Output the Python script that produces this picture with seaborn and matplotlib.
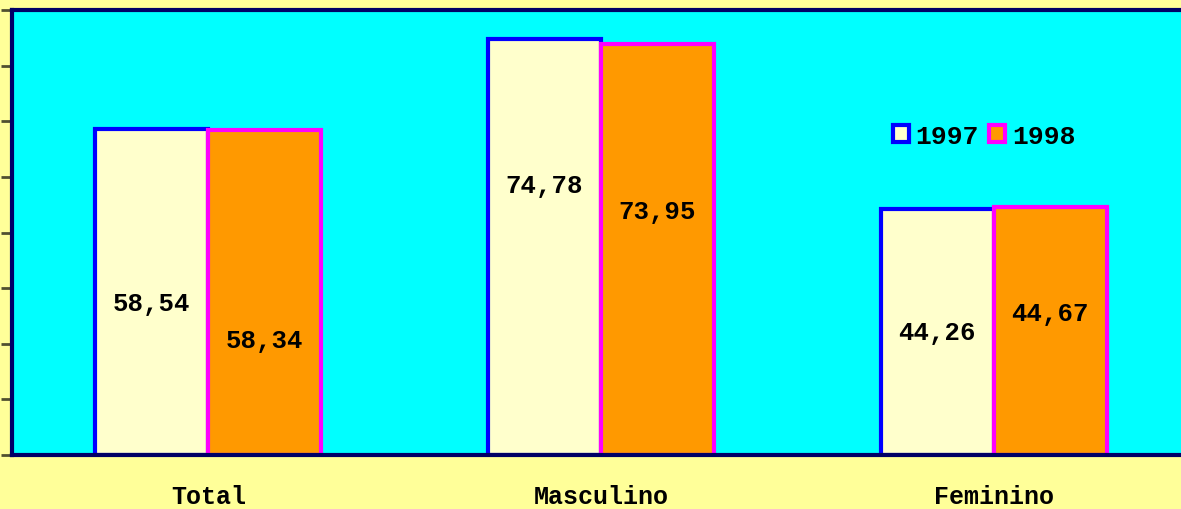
import pandas as pd
import seaborn as sns
import matplotlib.pyplot as plt

# dados do grafico
categorias = ['Total', 'Masculino', 'Feminino']
anos = ['1997', '1998']
valores_1997 = [58.54, 74.78, 44.26]
valores_1998 = [58.34, 73.95, 44.67]

# altura dos rotulos (como no original, movidos a mao)
rotulo_y_1997 = [27.4, 48.6, 22.1]
rotulo_y_1998 = [20.6, 43.8, 25.6]

df = pd.DataFrame({
    'categoria': categorias * 2,
    'ano': [anos[0]] * 3 + [anos[1]] * 3,
    'valor': valores_1997 + valores_1998,
})

sns.set_style('white')
plt.rcParams['font.family'] = ['Liberation Mono', 'DejaVu Sans Mono']
plt.rcParams['font.weight'] = 'bold'
plt.rcParams['text.color'] = 'black'

fig = plt.figure(figsize=(11.81, 5.10), dpi=100, facecolor='#FFFF99')
ax = fig.add_axes([12 / 1181, 1 - 456 / 510, 1178 / 1181, 445 / 510])
ax.set_facecolor('#00FFFF')

sns.barplot(data=df, x='categoria', y='valor', hue='ano', order=categorias,
            palette=['#FFFFCC', '#FF9900'], width=0.575, saturation=1,
            linewidth=3, legend=False, ax=ax)

bordas = ['#0000FF', '#FF00FF']
for cont, cor in zip(ax.containers, bordas):
    for p in cont:
        p.set_edgecolor(cor)
        p.set_linewidth(3)

def fmt(v):
    return f'{v:.2f}'.replace('.', ',')

for cont, vals, ys in zip(ax.containers, [valores_1997, valores_1998],
                          [rotulo_y_1997, rotulo_y_1998]):
    for p, v, y in zip(cont, vals, ys):
        ax.text(p.get_x() + p.get_width() / 2, y, fmt(v), ha='center',
                va='center', fontsize=18.5, fontweight='bold', color='black')

ax.set_ylim(0, 80)
ax.set_xlim(-0.5, 2.5)
ax.set_yticks(range(0, 81, 10))
ax.set_yticklabels([])
ax.set_xticks([0, 1, 2])
ax.set_xticklabels(categorias, fontsize=18, fontweight='bold', color='black')
ax.set_xticks([-0.5, 0.5, 1.5, 2.5], minor=True)
ax.tick_params(axis='x', which='major', length=0, pad=21)
ax.tick_params(axis='x', which='minor', length=8, width=2, color='#505030',
               direction='out')
ax.tick_params(axis='y', length=8, width=2, color='#505030', direction='out',
               left=True)
ax.set_xlabel('')
ax.set_ylabel('')

for lado in ['left', 'top', 'bottom']:
    ax.spines[lado].set_color('#000066')
    ax.spines[lado].set_linewidth(3)
ax.spines['right'].set_visible(False)

leg = ax.legend(ax.containers, anos, loc='center left',
                bbox_to_anchor=(0.756, 1 - 137 / 510),
                bbox_transform=fig.transFigure,
                ncol=2, frameon=False, borderpad=0, borderaxespad=0,
                handlelength=0.6, handleheight=0.6, handletextpad=0.25,
                columnspacing=0.4, prop={'size': 19, 'weight': 'bold'})
for h in leg.legend_handles:
    h.set_linewidth(3)
for t in leg.get_texts():
    t.set_color('black')

plt.savefig('out.png', dpi=100, facecolor=fig.get_facecolor())
plt.close()
